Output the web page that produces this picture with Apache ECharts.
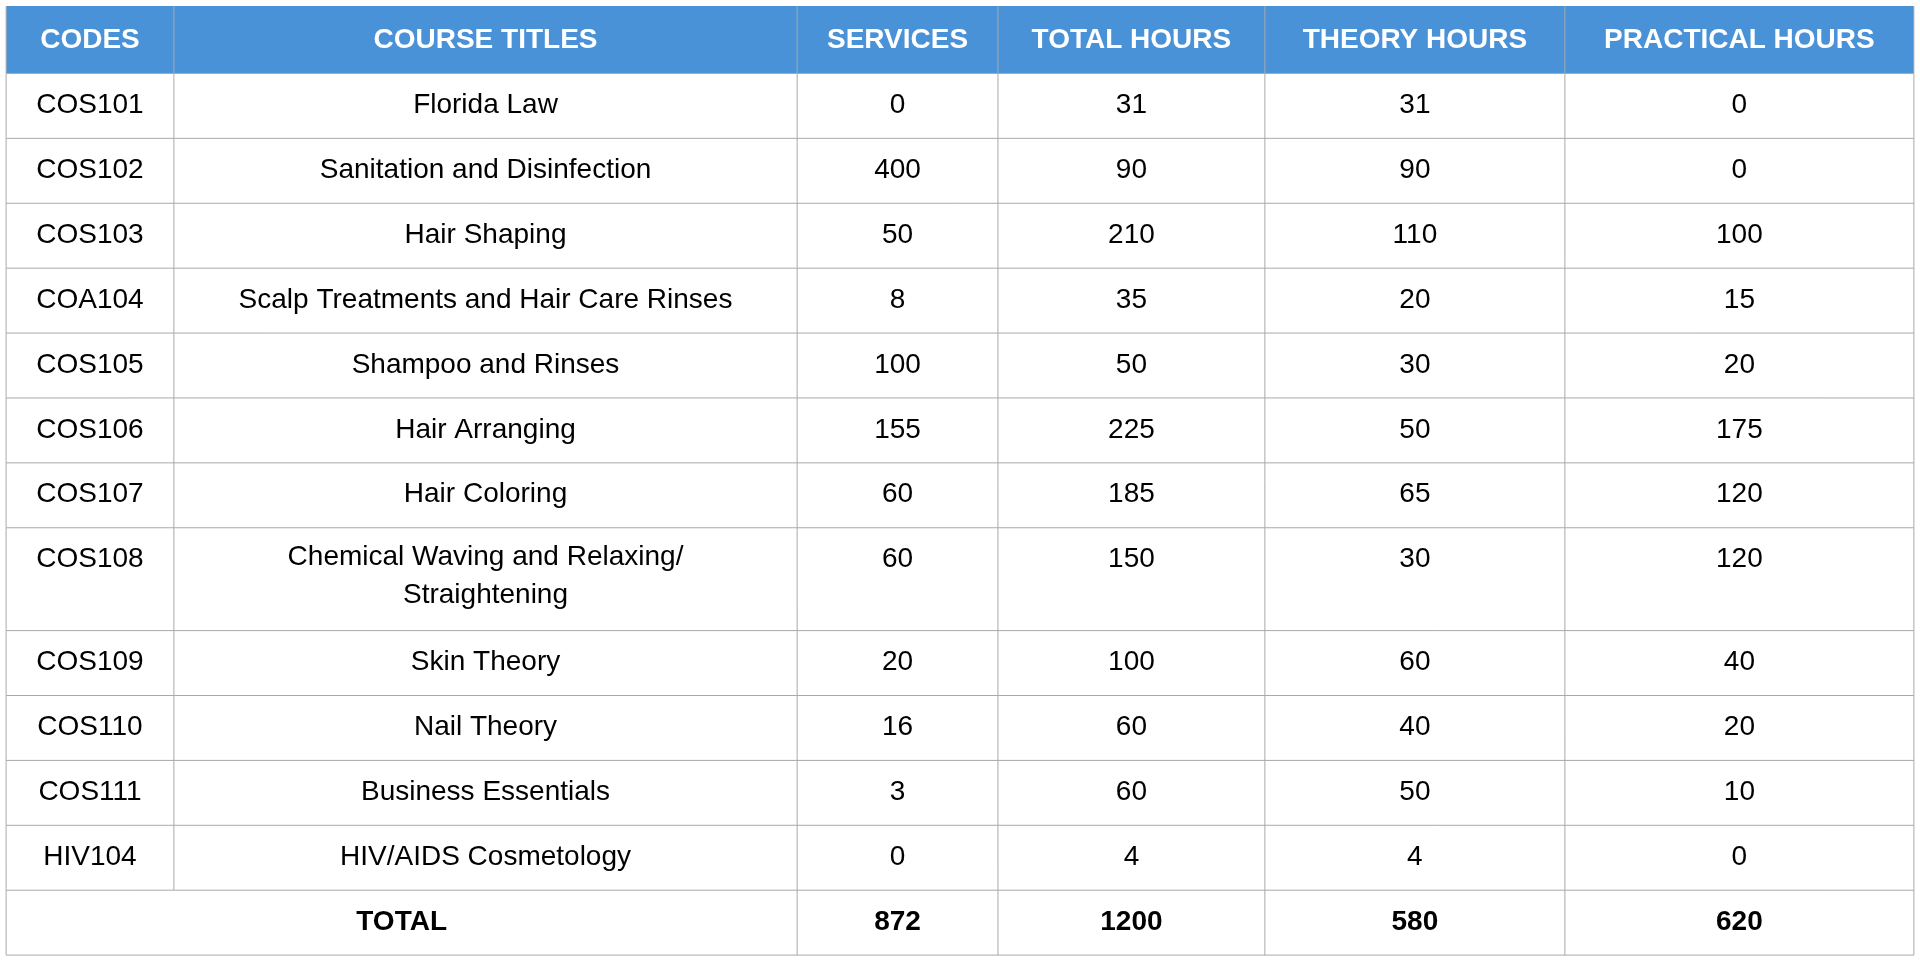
<!DOCTYPE html>
<html>
<head>
<meta charset="utf-8">
<script src="https://cdn.jsdelivr.net/npm/echarts@6/dist/echarts.min.js"></script>
<style>html,body{margin:0;padding:0;background:#fff}#main{width:1920px;height:965px}</style>
</head>
<body>
<div id="main"></div>
<script>
// table data
var headers = ['CODES', 'COURSE TITLES', 'SERVICES', 'TOTAL HOURS', 'THEORY HOURS', 'PRACTICAL HOURS'];
var codes = ['COS101', 'COS102', 'COS103', 'COA104', 'COS105', 'COS106', 'COS107', 'COS108', 'COS109', 'COS110', 'COS111', 'HIV104'];
var titles = ['Florida Law', 'Sanitation and Disinfection', 'Hair Shaping', 'Scalp Treatments and Hair Care Rinses',
  'Shampoo and Rinses', 'Hair Arranging', 'Hair Coloring', 'Chemical Waving and Relaxing/\nStraightening',
  'Skin Theory', 'Nail Theory', 'Business Essentials', 'HIV/AIDS Cosmetology'];
var services = [0, 400, 50, 8, 100, 155, 60, 60, 20, 16, 3, 0];
var totalHours = [31, 90, 210, 35, 50, 225, 185, 150, 100, 60, 60, 4];
var theoryHours = [31, 90, 110, 20, 30, 50, 65, 30, 60, 40, 50, 4];
var practicalHours = [0, 0, 100, 15, 20, 175, 120, 120, 40, 20, 10, 0];
var totals = ['872', '1200', '580', '620'];

var s = 1920 / 1568;
var colX = [5, 142, 651, 815, 1033, 1278, 1563].map(function (v) { return v * s; });
var rowH = [55, 53, 53, 53, 53, 53, 53, 53, 84, 53, 53, 53, 53, 53].map(function (v) { return v * s; });
var top0 = 5 * s;
var fontFamily = '"Liberation Sans", Arial, Helvetica, sans-serif';
var headBg = '#4a92d8';
var lineC = '#a9a9a9';

var els = [];
var y = top0;
var rowY = [];
for (var r = 0; r < rowH.length; r++) { rowY.push(y); y += rowH[r]; }
var bottom = y;

// header background
els.push({ type: 'rect', shape: { x: colX[0], y: rowY[0], width: colX[6] - colX[0], height: rowH[0] }, style: { fill: headBg } });

function cellText(txt, c0, c1, r, bold, color) {
  var cx = (colX[c0] + colX[c1]) / 2;
  var yy = rowY[r] + (r === 0 ? rowH[0] / 2 : 26 * s);
  els.push({
    type: 'text', x: cx, y: yy,
    style: { text: txt, x: 0, y: 0, align: 'center', verticalAlign: r === 0 ? 'middle' : 'middle',
      fill: color || '#000', font: (bold ? 'bold ' : '') + (28) + 'px ' + fontFamily, lineHeight: 38 }
  });
  if (txt.indexOf('\n') >= 0) {
    els[els.length - 1].style.verticalAlign = 'top';
    els[els.length - 1].y = rowY[r] + 9 * s;
  }
}

for (var c = 0; c < headers.length; c++) cellText(headers[c], c, c + 1, 0, true, '#fff');
for (var i = 0; i < codes.length; i++) {
  var vals = [codes[i], titles[i], String(services[i]), String(totalHours[i]), String(theoryHours[i]), String(practicalHours[i])];
  for (var c2 = 0; c2 < 6; c2++) cellText(vals[c2], c2, c2 + 1, i + 1, false);
}
var lastR = rowH.length - 1;
cellText('TOTAL', 0, 2, lastR, true);
for (var t = 0; t < totals.length; t++) cellText(totals[t], t + 2, t + 3, lastR, true);

// grid lines
for (var r2 = 1; r2 <= rowH.length; r2++) {
  var yy2 = r2 < rowH.length ? rowY[r2] : bottom;
  els.push({ type: 'line', shape: { x1: colX[0], y1: yy2, x2: colX[6], y2: yy2 }, style: { stroke: lineC, lineWidth: 1 } });
}
for (var k = 0; k < colX.length; k++) {
  var yEnd = (k === 1) ? rowY[lastR] : bottom;
  els.push({ type: 'line', shape: { x1: colX[k], y1: rowY[0], x2: colX[k], y2: yEnd }, style: { stroke: k === 0 || k === 6 ? lineC : (colX[k] ? lineC : lineC), lineWidth: 1 } });
}

var chart = echarts.init(document.getElementById('main'));
chart.setOption({ animation: false, graphic: { elements: els } });
</script>
</body>
</html>
